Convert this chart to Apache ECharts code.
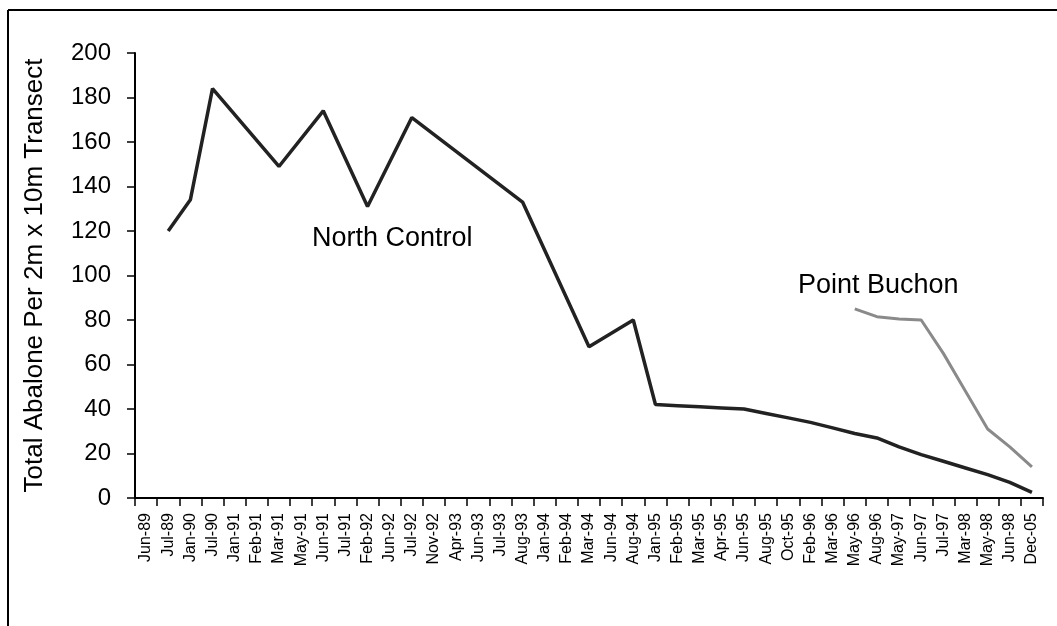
<!DOCTYPE html>
<html>
<head>
<meta charset="utf-8">
<script src="https://cdn.jsdelivr.net/npm/echarts@6/dist/echarts.min.js"></script>
<style>
html,body{margin:0;padding:0;background:#fff;}
#c{width:1057px;height:626px;}
</style>
</head>
<body>
<div id="c"></div>
<script>
const categories = ['Jun-89','Jul-89','Jan-90','Jul-90','Jan-91','Feb-91','Mar-91','May-91','Jun-91','Jul-91','Feb-92','Jun-92','Jul-92','Nov-92','Apr-93','Jun-93','Jul-93','Aug-93','Jan-94','Feb-94','Mar-94','Jun-94','Aug-94','Jan-95','Feb-95','Mar-95','Apr-95','Jun-95','Aug-95','Oct-95','Feb-96','Mar-96','May-96','Aug-96','May-97','Jun-97','Jul-97','Mar-98','May-98','Jun-98','Dec-05'];
const northControl = [null,120,134,184,null,null,149,null,174,null,131,null,171,null,null,null,null,133,null,null,68,null,80,42,41.5,41,40.5,40,38,36,34,31.5,29,27,23,19.5,16.5,13.5,10.5,7,2.5];
const pointBuchon = [null,null,null,null,null,null,null,null,null,null,null,null,null,null,null,null,null,null,null,null,null,null,null,null,null,null,null,null,null,null,null,null,85,81.5,80.5,80,65,48,31,23,14];
const yTicks = {min:0, max:200, interval:20};
const yTitle = 'Total Abalone Per 2m x 10m Transect';
const seriesNames = ['North Control','Point Buchon'];

const chart = echarts.init(document.getElementById('c'), null, {renderer:'canvas'});
const font = 'Liberation Sans, Arial, sans-serif';
chart.setOption({
  animation:false,
  backgroundColor:'#fff',
  grid:{left:135,right:14,top:53,bottom:128,containLabel:false},
  xAxis:{
    type:'category', data:categories, boundaryGap:true,
    axisLine:{lineStyle:{color:'#000',width:2}},
    axisTick:{show:true,length:8,alignWithLabel:false,lineStyle:{color:'#000',width:1.5}},
    axisLabel:{rotate:90,interval:0,color:'#000',fontSize:16,fontFamily:font,margin:15}
  },
  yAxis:{
    type:'value', min:yTicks.min, max:yTicks.max, interval:yTicks.interval,
    name:yTitle, nameLocation:'middle', nameGap:87, nameRotate:90,
    nameTextStyle:{color:'#000',fontSize:26,fontFamily:font},
    axisLine:{show:true,lineStyle:{color:'#000',width:2}},
    axisTick:{show:true,length:8,inside:false,lineStyle:{color:'#000',width:1.5}},
    axisLabel:{color:'#000',fontSize:24,fontFamily:font,margin:24},
    splitLine:{show:false}
  },
  series:[
    {name:seriesNames[0],type:'line',data:northControl,connectNulls:true,symbol:'none',
     lineStyle:{color:'#222',width:3.5},z:3},
    {name:seriesNames[1],type:'line',data:pointBuchon,connectNulls:true,symbol:'none',
     lineStyle:{color:'#8a8a8a',width:3},z:2}
  ],
  graphic:[
    {type:'line',shape:{x1:8,y1:10,x2:1057,y2:10},style:{stroke:'#000',lineWidth:2}},
    {type:'line',shape:{x1:8,y1:10,x2:8,y2:626},style:{stroke:'#000',lineWidth:2}},
    {type:'text',x:312,y:239,style:{text:seriesNames[0],fill:'#000',fontSize:27,fontFamily:font,textVerticalAlign:'middle'}},
    {type:'text',x:798,y:286,style:{text:seriesNames[1],fill:'#000',fontSize:27,fontFamily:font,textVerticalAlign:'middle'}}
  ]
});
</script>
</body>
</html>
